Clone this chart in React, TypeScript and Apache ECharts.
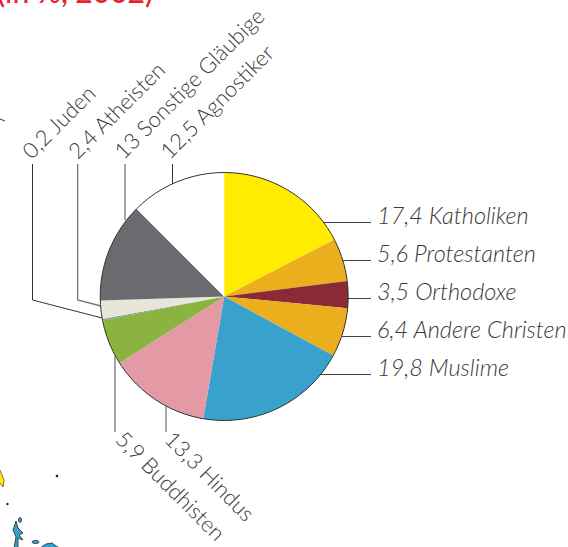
import React, { useEffect, useRef } from "react";
import * as echarts from "echarts";

const categories = ["Katholiken", "Protestanten", "Orthodoxe", "Andere Christen", "Muslime", "Hindus", "Buddhisten", "Juden", "Atheisten", "Sonstige Gläubige", "Agnostiker"];
const values = [17.4, 5.6, 3.5, 6.4, 19.8, 13.3, 5.9, 0.2, 2.4, 13, 12.5];
const valueLabels = ["17,4", "5,6", "3,5", "6,4", "19,8", "13,3", "5,9", "0,2", "2,4", "13", "12,5"];
const colors = ["#ffec00", "#ebae1c", "#8a2a35", "#ebae1c", "#38a1cc", "#e39aa5", "#8bb33f", "#7f9f94", "#e8e6d8", "#6a6b6e", "#ffffff"];

const FONT = "Lato";
const TEXT = "#3a3a3a";
const CX = 224.2;
const CY = 296.5;
const R = 124;

export default function App() {
  const ref = useRef<HTMLDivElement>(null);
  useEffect(() => {
    document.body.style.margin = "0";
    const chart = echarts.init(ref.current!, undefined, { renderer: "svg" });
    const rightY = [215, 253, 291, 329, 367];
    const label = (i: number) => `${valueLabels[i]} ${categories[i]}`;
    const line = (points: number[][], stroke: string, lineWidth: number) => ({
      type: "polyline", silent: true, z: 1,
      shape: { points }, style: { stroke, lineWidth, fill: "none" },
    });
    const rightStart = [323, 343, 348, 342, 321];
    const rightLines = rightY.map((y, i) => line([[rightStart[i], y + 7.5], [371, y + 7.5]], "#444", 1));
    const rightTexts = rightY.map((y, i) => ({
      type: "text", x: 377, y, silent: true,
      style: { text: label(i), font: `italic 300 23.5px ${FONT}`, fill: TEXT, verticalAlign: "middle", align: "left" },
    }));
    const upTexts = [
      { i: 7, x: 33.5, y: 162 },
      { i: 8, x: 79.5, y: 162 },
      { i: 9, x: 125.5, y: 162 },
      { i: 10, x: 171.5, y: 162 },
    ].map(({ i, x, y }) => ({
      type: "text", x, y, rotation: Math.PI / 4, silent: true,
      style: { text: label(i), font: `300 22px ${FONT}`, fill: TEXT, verticalAlign: "bottom", align: "left" },
    }));
    const downTexts = [
      { i: 6, x: 128, y: 427 },
      { i: 5, x: 177, y: 427 },
    ].map(({ i, x, y }) => ({
      type: "text", x, y, rotation: -Math.PI / 4, silent: true,
      style: { text: label(i), font: `300 22px ${FONT}`, fill: TEXT, verticalAlign: "top", align: "left" },
    }));
    const blue = { fill: "#38a1cc", stroke: "#222", lineWidth: 0.8 };
    chart.setOption({
      animation: false,
      backgroundColor: "#ffffff",
      series: [{
        type: "pie",
        center: [CX, CY],
        radius: R,
        startAngle: 90,
        clockwise: true,
        label: { show: false },
        labelLine: { show: false },
        silent: true,
        z: 3,
        data: categories.map((name, i) => ({ name, value: values[i], itemStyle: { color: colors[i] } })),
      }],
      graphic: [
        { type: "text", x: -3, y: -24, silent: true, style: { text: "(in %, 2002)", font: `500 30px ${FONT}`, fill: "#e8222a" } },
        line([[32.5, 164], [32.5, 300], [102, 318]], "#333", 1),
        line([[77.7, 164], [77.7, 300], [101, 306]], "#777", 1.3),
        line([[125, 164], [125, 220]], "#777", 1.3),
        line([[172.5, 164], [172.5, 184]], "#333", 1),
        line([[115, 356], [115, 432]], "#888", 1.5),
        line([[166, 406], [166, 432]], "#888", 1.5),
        ...rightLines,
        ...rightTexts,
        ...upTexts,
        ...downTexts,
        { type: "circle", silent: true, z: 10, shape: { cx: CX, cy: CY, r: R }, style: { fill: "none", stroke: "#333", lineWidth: 1 } },
        { type: "polygon", silent: true, shape: { points: [[-1, 468], [4, 480], [3, 487], [-1, 482]] }, style: { fill: "#ffec00", stroke: "#222", lineWidth: 0.6 } },
        { type: "polygon", silent: true, shape: { points: [[16, 521], [18, 528], [23, 533], [19, 535], [23, 540], [18, 538], [18, 548], [14, 548], [16, 537], [13, 530]] }, style: blue },
        { type: "ellipse", silent: true, shape: { cx: 20, cy: 520, rx: 1.5, ry: 2.5 }, style: blue },
        { type: "ellipse", silent: true, shape: { cx: 35.5, cy: 542, rx: 3.5, ry: 1.5 }, style: blue },
        { type: "polygon", silent: true, shape: { points: [[40, 548], [46, 544], [52, 543], [56, 546], [60, 548]] }, style: blue },
        { type: "circle", silent: true, shape: { cx: 57, cy: 476, r: 1.3 }, style: { fill: "#222" } },
        { type: "circle", silent: true, shape: { cx: 7.5, cy: 504, r: 1.2 }, style: { fill: "#222" } },
        { type: "line", silent: true, shape: { x1: 0, y1: 119, x2: 5, y2: 121 }, style: { stroke: "#333", lineWidth: 1 } },
      ],
    });
    return () => chart.dispose();
  }, []);
  return <div ref={ref} style={{ width: 568, height: 547 }} />;
}
